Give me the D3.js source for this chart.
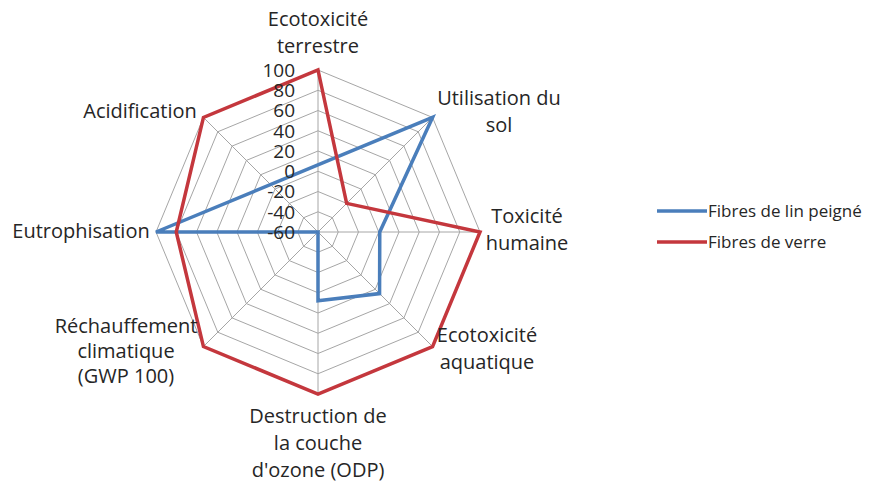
<!DOCTYPE html>
<html>
<head>
<meta charset="utf-8">
<script src="https://cdn.jsdelivr.net/npm/d3@7"></script>
<style>
  html, body { margin: 0; padding: 0; background: #fff; }
  svg text { font-family: "Open Sans", Lato, sans-serif; fill: #262626; }
</style>
</head>
<body>
<svg id="chart" width="889" height="482"></svg>
<script>
// ---- data ----
const categories = [
  "Ecotoxicité terrestre",
  "Utilisation du sol",
  "Toxicité humaine",
  "Ecotoxicité aquatique",
  "Destruction de la couche d'ozone (ODP)",
  "Réchauffement climatique (GWP 100)",
  "Eutrophisation",
  "Acidification"
];
const categoryLines = [
  ["Ecotoxicité", "terrestre"],
  ["Utilisation du", "sol"],
  ["Toxicité", "humaine"],
  ["Ecotoxicité", "aquatique"],
  ["Destruction de", "la couche", "d'ozone (ODP)"],
  ["Réchauffement", "climatique", "(GWP 100)"],
  ["Eutrophisation"],
  ["Acidification"]
];
const seriesNames = ["Fibres de lin peigné", "Fibres de verre"];
const linValues   = [null, 100, 1, 26, 8, -60, 100, null];
const verreValues = [100, -20, 100, 100, 100, 100, 80, 100];
const tickValues  = [-60, -40, -20, 0, 20, 40, 60, 80, 100];
const seriesColors = ["#4a7ebb", "#c4373d"];

// ---- layout ----
const svg = d3.select("#chart");
const cx = 318, cy = 232, R = 162;
const n = categories.length;
const r = d3.scaleLinear().domain([-60, 100]).range([0, R]);
const angle = d3.scaleLinear().domain([0, n]).range([0, 2 * Math.PI]);
const pt = (i, v) => {
  const a = angle(i);
  return [cx + r(v) * Math.sin(a), cy - r(v) * Math.cos(a)];
};

const g = svg.append("g");

// grid rings
tickValues.forEach(t => {
  const pts = d3.range(n).map(i => pt(i, t));
  g.append("path")
    .attr("d", d3.line()(pts) + "Z")
    .attr("fill", "none")
    .attr("stroke", "#a6a6a6")
    .attr("stroke-width", 1);
});
// spokes
d3.range(n).forEach(i => {
  const p = pt(i, 100);
  g.append("line")
    .attr("x1", cx).attr("y1", cy)
    .attr("x2", p[0]).attr("y2", p[1])
    .attr("stroke", "#a6a6a6")
    .attr("stroke-width", 1);
});

// series
const allSeries = [linValues, verreValues];
allSeries.forEach((vals, si) => {
  const pts = vals.map((v, i) => v === null ? null : pt(i, v)).filter(p => p !== null);
  g.append("path")
    .attr("d", d3.line()(pts) + "Z")
    .attr("fill", "none")
    .attr("stroke", seriesColors[si])
    .attr("stroke-width", 3.5)
    .attr("stroke-linejoin", "miter");
});

// tick labels
tickValues.forEach(t => {
  g.append("text")
    .attr("x", 295)
    .attr("y", cy - r(t))
    .attr("dy", "0.36em")
    .attr("text-anchor", "end")
    .attr("font-size", 19)
    .text(t);
});

// category labels
const labelPos = [
  {x: 318, y: 26},
  {x: 499, y: 105},
  {x: 527, y: 223},
  {x: 487, y: 342},
  {x: 318, y: 423},
  {x: 126, y: 333},
  {x: 81,  y: 238},
  {x: 140, y: 118}
];
categoryLines.forEach((lines, i) => {
  const t = g.append("text")
    .attr("text-anchor", "middle")
    .attr("font-size", 20);
  lines.forEach((l, k) => {
    t.append("tspan")
      .attr("x", labelPos[i].x)
      .attr("y", labelPos[i].y + k * (i === 5 ? 25 : 27))
      .text(l);
  });
});

// legend
seriesNames.forEach((name, i) => {
  const y = 211 + i * 31;
  g.append("line")
    .attr("x1", 657).attr("x2", 707)
    .attr("y1", y).attr("y2", y)
    .attr("stroke", seriesColors[i])
    .attr("stroke-width", 3.5);
  g.append("text")
    .attr("x", 708).attr("y", y)
    .attr("dy", "0.35em")
    .attr("font-size", 17)
    .text(name);
});
</script>
</body>
</html>
